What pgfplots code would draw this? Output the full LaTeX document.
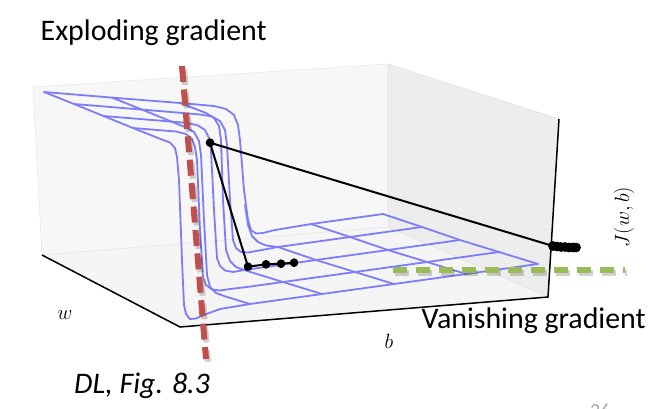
\documentclass[border=0pt]{standalone}
\usepackage{pgfplots}
\pgfplotsset{compat=1.18}
\usepackage{fontspec}
\setmainfont{Carlito}
\definecolor{meshblue}{RGB}{125,125,250}
\definecolor{expred}{RGB}{192,80,77}
\definecolor{vangreen}{RGB}{155,187,89}
\begin{document}
\begin{tikzpicture}
\begin{axis}[scale only axis, width=670bp, height=408bp,
  xmin=0, xmax=670, ymin=0, ymax=408, y dir=reverse,
  hide axis, clip=false,
  meshl/.style={meshblue, line width=1.8bp, line join=round, line cap=round}]
% panes
\addplot[fill=black!3, draw=black!10, line width=0.5bp] coordinates {(33,87) (388,64) (388,227) (42,255) (33,87)};
\addplot[fill=black!7, draw=black!12, line width=0.5bp] coordinates {(388,64) (559,119) (548,297) (388,227) (388,64)};
\addplot[fill=black!4, draw=black!10, line width=0.5bp] coordinates {(42,255) (388,227) (548,297) (180,327) (42,255)};
% box edges
\addplot[black, line width=1.5bp, line join=round] coordinates {(42,255) (180,327) (548,297) (559,119)};
% mesh: lines of constant w
\addplot[meshl] coordinates {(44,92) (112,97.6) (180,103) (214,106) (226,109) (234,115) (238,125) (240,140) (244,190) (248,220) (251,230) (256,233.5) (263,233) (275,230) (311,224) (347,219) (383,214)};
\addplot[meshl] coordinates {(74,104) (142,109.6) (176,112.4) (200,114.5) (212,116.5) (220,121) (225,130) (227,145) (230,200) (233,240) (236,248) (241,252) (248,252.5) (278,247) (314,242) (350,237) (386,232) (422,227)};
\addplot[meshl] coordinates {(103.5,116) (137.5,118.8) (171.5,121.6) (188,123) (198,125.5) (205,130) (209,138) (211,150) (214,210) (217,258) (220,266) (225,270.5) (233,272) (244,270) (280,265) (316,260) (352,255) (388,250) (424,245) (460,240)};
\addplot[meshl] coordinates {(133,128) (157,130) (176,131.5) (186,134) (192,139) (195,147) (197,160) (200,230) (203,277) (206,285) (212,289.5) (220,290.5) (230,289) (247,287) (283,282) (319,277) (355,272) (391,267) (427,262) (463,257) (499,252)};
\addplot[meshl] coordinates {(163,140) (170,142.5) (175,148) (177,157) (179,180) (182,260) (184,305) (186,314) (190,319) (196,318.5) (205,314.5) (220,309) (250,304) (286,299) (322,294) (358,289) (394,284) (430,279) (466,274) (502,269) (538,264)};
% mesh: lines of constant b
\addplot[meshl] coordinates {(44,92) (74,104) (103.5,116) (133,128) (163,140)};
\addplot[meshl] coordinates {(112,97.6) (142,109.6) (171.5,121.6) (186,127.5) (194,132) (199,141) (201,155) (204,220) (207,275) (210,287) (216,293) (224,296) (250,304)};
\addplot[meshl] coordinates {(180,103) (206,113) (214,118) (219,126) (221,140) (223,200) (226,250) (230,261) (236,267) (244,270) (283,282) (322,294)};
\addplot[meshl] coordinates {(245,205) (248,225) (252,236) (258,242) (266,245.5) (278,247) (316,260) (355,272) (394,284)};
\addplot[meshl] coordinates {(311,224) (350,237) (388,250) (427,262) (466,274)};
\addplot[meshl] coordinates {(383,214) (422,227) (460,240) (499,252) (538,264)};
% gradient descent trajectory
\addplot[black, line width=2bp, line join=round, mark=*, mark size=3.3pt] coordinates {(294,262.7) (281,263.7) (266,264.3) (248,266.7) (210,142.7) (553,246)};
\addplot[black, line width=3bp, mark=*, mark size=3.3pt] coordinates {(553,246) (557,246.5) (561,247) (565,247) (569,247.5) (573,247.5) (576,247.5)};
% annotation lines (with soft shadows)
\addplot[black, opacity=0.18, line width=6bp, dash pattern=on 16bp off 7.5bp] coordinates {(184,69) (208,362)};
\addplot[expred, line width=6bp, dash pattern=on 16bp off 7.5bp] coordinates {(182,66) (206,359)};
\addplot[black, opacity=0.18, line width=6.5bp, dash pattern=on 14bp off 9bp] coordinates {(395,273) (627,273)};
\addplot[vangreen, line width=6.5bp, dash pattern=on 14bp off 9bp] coordinates {(393,270) (625,270)};
% axis labels
\node[font=\fontsize{20}{24}\selectfont] at (axis cs:65,315) {$w$};
\node[font=\fontsize{20}{24}\selectfont] at (axis cs:389,341) {$b$};
\node[font=\fontsize{20}{24}\selectfont, rotate=90] at (axis cs:624,217) {$J(w,b)$};
% annotations
\node[anchor=base west, inner sep=0pt, font=\fontsize{30}{36}\selectfont] at (axis cs:40.5,40) {Exploding gradient};
\node[anchor=base west, inner sep=0pt, font=\fontsize{30}{36}\selectfont] at (axis cs:421.5,328.5) {Vanishing gradient};
\node[anchor=base west, inner sep=0pt, font=\fontsize{30}{36}\selectfont\itshape] at (axis cs:74,393) {DL, Fig. 8.3};
\node[anchor=base west, inner sep=0pt, text=black!35, font=\fontsize{20}{24}\selectfont] at (axis cs:590,417) {26};
\coordinate (TL) at (axis cs:0,0);
\coordinate (BR) at (axis cs:670,408);
\end{axis}
\pgfresetboundingbox
\path[use as bounding box] (TL) rectangle (BR);
\end{tikzpicture}
\end{document}
